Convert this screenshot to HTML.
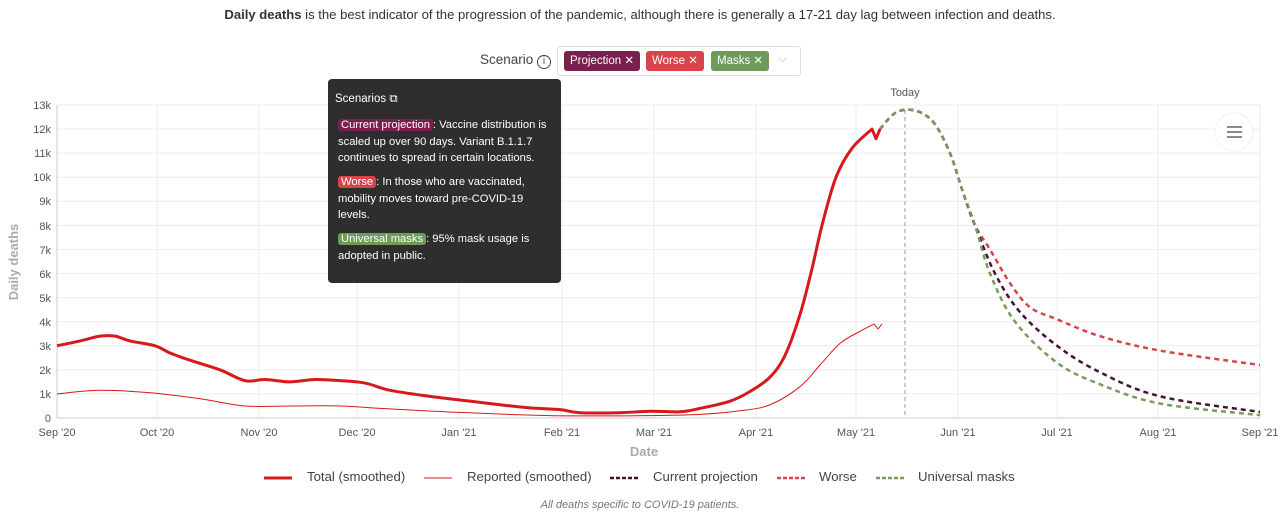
<!DOCTYPE html>
<html><head><meta charset="utf-8"><style>
body{margin:0;width:1280px;height:513px;background:#fff;font-family:"Liberation Sans",Arial,sans-serif;position:relative;overflow:hidden}
.top{position:absolute;top:7px;left:0;width:1280px;text-align:center;font-size:13.1px;color:#333}
.scen{position:absolute;top:52px;left:480px;font-size:13.5px;color:#444}
.sel{position:absolute;top:46px;left:557px;width:242px;height:28px;border:1px solid #ddd;border-radius:3px;background:#fff}
.tag{position:absolute;top:4px;height:20px;line-height:20px;font-size:11.5px;color:#fff;border-radius:3px;padding:0 6px}
.tip{position:absolute;left:328px;top:79px;width:233px;height:204px;background:#2e2e2e;border-radius:4px;color:#fff;font-size:11.2px;line-height:16.5px}
.tip p{margin:0;position:absolute;left:10px;width:218px}
.hl{border-radius:3px;padding:0 3px;color:#fff}
svg{position:absolute;left:0;top:0}
.ax{font-size:11px;fill:#555}
.leg{position:absolute;top:469px;font-size:13.2px;color:#444}
</style></head><body>
<div class="top"><b>Daily deaths</b> is the best indicator of the progression of the pandemic, although there is generally a 17-21 day lag between infection and deaths.</div>
<div class="scen">Scenario <span style="display:inline-block;width:12px;height:12px;border:1px solid #444;border-radius:50%;font-size:10px;line-height:12px;text-align:center">i</span></div>
<div class="sel">
<span class="tag" style="left:6px;background:#7a1f4e">Projection ✕</span>
<span class="tag" style="left:88px;background:#d9434a">Worse ✕</span>
<span class="tag" style="left:153px;background:#6e9a5a">Masks ✕</span>
<span style="position:absolute;left:220px;top:4px;color:#bbb;font-size:12px">⌵</span>
</div>
<svg width="1280" height="513" id="s">
<g stroke="#ececec" stroke-width="1" id="grid"></g>
<g class="ax" text-anchor="end">
<text x="51" y="422">0</text><text x="51" y="398">1k</text><text x="51" y="374">2k</text><text x="51" y="350">3k</text><text x="51" y="326">4k</text><text x="51" y="302">5k</text><text x="51" y="278">6k</text><text x="51" y="254">7k</text><text x="51" y="230">8k</text><text x="51" y="205">9k</text><text x="51" y="181">10k</text><text x="51" y="157">11k</text><text x="51" y="133">12k</text><text x="51" y="109">13k</text>
</g>
<g class="ax" text-anchor="middle">
<text x="57" y="436">Sep '20</text><text x="157" y="436">Oct '20</text><text x="259" y="436">Nov '20</text><text x="357" y="436">Dec '20</text><text x="459" y="436">Jan '21</text><text x="562" y="436">Feb '21</text><text x="654" y="436">Mar '21</text><text x="756" y="436">Apr '21</text><text x="856" y="436">May '21</text><text x="958" y="436">Jun '21</text><text x="1057" y="436">Jul '21</text><text x="1158" y="436">Aug '21</text><text x="1260" y="436">Sep '21</text>
<text x="905" y="96" font-size="11">Today</text>
<text x="644" y="456" font-size="13" font-weight="bold" fill="#aaa">Date</text>
<text x="18" y="262" font-size="13" font-weight="bold" fill="#aaa" transform="rotate(-90 18 262)">Daily deaths</text>
</g>
<line x1="57" y1="105" x2="57" y2="418" stroke="#ccc"/>
<line x1="57" y1="418" x2="1260" y2="418" stroke="#ccc"/>
<line x1="905" y1="110" x2="905" y2="418" stroke="#999" stroke-dasharray="4,3"/>
<circle cx="1234" cy="132" r="19" fill="#fff" stroke="#f0f0f0"/>
<g stroke="#666" stroke-width="1.5"><line x1="1227" y1="127" x2="1242" y2="127"/><line x1="1227" y1="132" x2="1242" y2="132"/><line x1="1227" y1="137" x2="1242" y2="137"/></g>
<g id="lines" fill="none" stroke-linejoin="round"></g>
<line x1="264" y1="478" x2="292" y2="478" stroke="#d7191c" stroke-width="3"/>
<line x1="424" y1="478" x2="452" y2="478" stroke="#d7191c" stroke-width="1"/>
<line x1="610" y1="478" x2="638" y2="478" stroke="#4a1035" stroke-width="2.5" stroke-dasharray="4,2"/>
<line x1="777" y1="478" x2="805" y2="478" stroke="#d9434a" stroke-width="2.5" stroke-dasharray="4,2"/>
<line x1="876" y1="478" x2="904" y2="478" stroke="#7a9a5e" stroke-width="2.5" stroke-dasharray="4,2"/>
</svg>
<div class="leg" style="left:307px">Total (smoothed)</div>
<div class="leg" style="left:467px">Reported (smoothed)</div>
<div class="leg" style="left:653px">Current projection</div>
<div class="leg" style="left:819px">Worse</div>
<div class="leg" style="left:918px">Universal masks</div>
<div style="position:absolute;top:499px;width:1280px;text-align:center;font-size:11px;font-style:italic;color:#777">All deaths specific to COVID-19 patients.</div>
<div class="tip">
<div style="position:absolute;left:7px;top:12px;font-size:11.5px">Scenarios ⧉</div>
<p style="top:38px"><span class="hl" style="background:#7a1f4e">Current projection</span>: Vaccine distribution is scaled up over 90 days. Variant B.1.1.7 continues to spread in certain locations.</p>
<p style="top:95px"><span class="hl" style="background:#d9434a">Worse</span>: In those who are vaccinated, mobility moves toward pre-COVID-19 levels.</p>
<p style="top:152px"><span class="hl" style="background:#6e9a5a">Universal masks</span>: 95% mask usage is adopted in public.</p>
</div>
<script>
var Y=function(v){return 418-v*24.08};
var g=document.getElementById('grid'),s='';
for(var i=1;i<=13;i++)s+='<line x1="57" x2="1260" y1="'+Y(i)+'" y2="'+Y(i)+'"/>';
[157,259,357,459,562,654,756,856,958,1057,1158,1260].forEach(function(x){s+='<line y1="105" y2="418" x1="'+x+'" x2="'+x+'"/>'});
g.innerHTML=s;
function path(p){var d='M'+p[0][0]+','+Y(p[0][1]);for(var i=0;i<p.length-1;i++){var a=p[i-1]||p[i],b=p[i],c=p[i+1],e=p[i+2]||c;
var x1=b[0]+(c[0]-a[0])/6,y1=Y(b[1])+(Y(c[1])-Y(a[1]))/6,x2=c[0]-(e[0]-b[0])/6,y2=Y(c[1])-(Y(e[1])-Y(b[1]))/6;d+=' C'+x1+','+y1+' '+x2+','+y2+' '+c[0]+','+Y(c[1]);}return d}
var tot=[[57,3.0],[80,3.2],[100,3.4],[115,3.4],[130,3.2],[155,3.0],[170,2.7],[190,2.4],[220,2.0],[245,1.55],[265,1.6],[290,1.5],[315,1.6],[340,1.55],[365,1.45],[390,1.15],[430,0.9],[470,0.7],[500,0.55],[530,0.42],[560,0.35],[580,0.22],[620,0.22],[650,0.28],[680,0.26],[700,0.4],[730,0.7],[750,1.1],[770,1.7],[785,2.6],[800,4.3],[812,6.2],[822,8],[836,10],[852,11.2],[872,12.0]];
var rep=[[57,1.0],[100,1.15],[150,1.05],[200,0.8],[245,0.5],[290,0.5],[340,0.5],[380,0.4],[450,0.25],[550,0.1],[650,0.1],[700,0.15],[740,0.3],[770,0.55],[800,1.3],[820,2.2],[840,3.1],[860,3.6],[874,3.9]];
var sh=[[880,12.0],[893,12.6],[905,12.8],[920,12.7],[935,12.2],[950,11.0],[962,9.5],[975,8.0]];
var wo=sh.concat([[990,7.0],[1010,5.6],[1030,4.6],[1057,4.1],[1100,3.4],[1160,2.8],[1260,2.2]]);
var cu=sh.concat([[995,6.0],[1020,4.4],[1057,3.0],[1100,1.9],[1160,0.9],[1260,0.25]]);
var ma=sh.concat([[990,6.0],[1015,4.0],[1057,2.3],[1100,1.4],[1160,0.6],[1260,0.12]]);
var L=document.getElementById('lines');
L.innerHTML='<path d="'+path(wo)+' " stroke="#d9434a" stroke-width="2.5" stroke-dasharray="5,4"/>'+
'<path d="'+path(cu)+'" stroke="#4a1035" stroke-width="2.5" stroke-dasharray="5,4"/>'+
'<path d="'+path(ma)+'" stroke="#7a9a5e" stroke-width="2.5" stroke-dasharray="5,4"/>'+
'<path d="'+path(tot)+' L876,'+Y(11.6)+' L880,'+Y(12.0)+'" stroke="#d7191c" stroke-width="3"/>'+
'<path d="'+path(rep)+' L878,'+Y(3.7)+' L882,'+Y(3.9)+'" stroke="#d7191c" stroke-width="1"/>';
</script>
</body></html>
